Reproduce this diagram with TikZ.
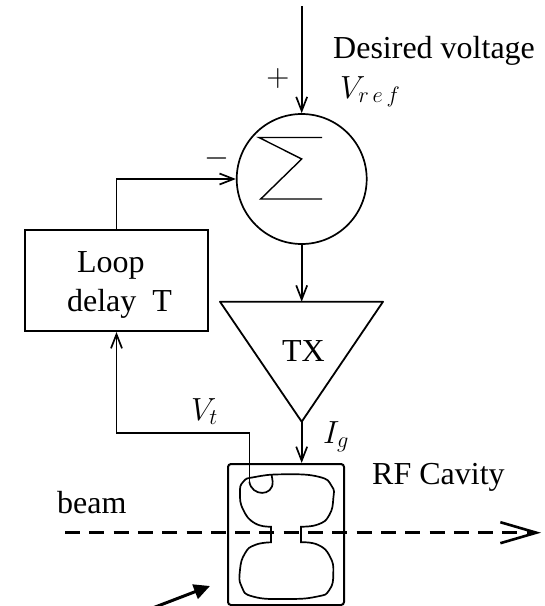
\documentclass[tikz,border=0pt]{standalone}
\usepackage{fix-cm}
\usepackage{fontspec}
\setmainfont{Liberation Serif}
\usetikzlibrary{arrows.meta}
\tikzset{
	line/.style={line width=1.6pt, -{Straight Barb[length=14pt,width=11pt,line width=1.7pt]}},
	blockbox/.style={draw, line width=2pt, inner sep=0pt},
	caption/.style={anchor=base west, inner sep=0pt},
	sign/.style={inner sep=0pt},
}
\begin{document}
	\begin{tikzpicture}[x=1pt,y=-1pt,font=\fontsize{32}{39}\selectfont]
		\useasboundingbox (0,0) rectangle (545,606);
		%% Blocks
		\node[draw, circle, line width=1.7pt, minimum size=130pt, inner sep=0pt] (sum) at (301.7,179) {};
		\node[blockbox, minimum width=183pt, minimum height=101pt, align=left] (delay) at (116.5,280.5) {\hspace*{16pt}\rule{0pt}{29pt}Loop\\\hspace*{6pt}delay~~T};
		\node[blockbox, rounded corners=3pt, minimum width=116pt, minimum height=141pt] (cavity) at (286,534.5) {};
		\coordinate (txin) at (301.7,301.7);
		\coordinate (txout) at (301.7,421.7);
		\draw[line width=1.8pt, line join=round] (220,301.7) -- (383,301.7) -- (txout) -- cycle;
		\node[inner sep=0pt] (txlabel) at (303.5,351) {TX};
		%% Sigma
		\draw[line width=1.4pt] (322,137.5) -- (259,137.5) -- (301.7,159) -- (260.7,199) -- (322,199);
		%% Cavity
		\begin{scope}[shift={(190,380)},x=0.3333pt,y=-0.3333pt]
			\draw[line width=1.7pt] plot[smooth, tension=0.85] coordinates {(243,440) (195,430) (160,390) (150,340) (160,305) (195,291) (280,283) (385,290) (425,318) (430,355) (418,405) (385,433) (333,440)} -- (333,487) -- plot[smooth, tension=0.85] coordinates {(333,487) (385,495) (420,530) (430,580) (418,630) (380,650) (290,657) (190,650) (155,620) (150,570) (165,520) (195,495) (243,487)} -- cycle;
			\draw[line width=1.7pt] (178,305) .. controls (185,350) and (250,350) .. (248,305) -- (245,285);
			\coordinate (probe) at (178,305);
		\end{scope}
		%% Signals
		\coordinate (vin) at (301.7,6);
		\coordinate (tap) at (116.5,432.7);
		\draw[line] (vin) -- (sum.north);
		\draw[line] (sum.south) -- (txin);
		\draw[line] (txout) -- (cavity.north -| txout);
		\draw[line] (delay.north) |- (sum.west);
		\draw[line] (probe) |- (tap) -- (delay.south);
		%% Beam
		\coordinate (beamin) at (65,532.7);
		\coordinate (beamout) at (541,532.7);
		\draw[line width=3.5pt, dash pattern=on 15pt off 9.3pt, -{Straight Barb[length=36pt,width=21pt,line width=2.6pt]}] (beamin) -- (beamout);
		\coordinate (tailin) at (150,609);
		\coordinate (tailout) at (210,586);
		\draw[line width=3pt, -{Triangle[length=16pt,width=15pt]}] (tailin) -- (tailout);
		%% Labels
		\node[caption] (desired) at (333,58) {Desired voltage};
		\node[caption] (vref) at (340,98) {$V_{r\,e\,f}$};
		\node[caption] (vt) at (191,420) {$V_t$};
		\node[caption] (ig) at (323,443) {$I_g$};
		\node[caption] (rf) at (372,484) {RF Cavity};
		\node[caption] (beam) at (57,513) {beam};
		\node[sign] (plus) at (278,78) {$+$};
		\node[sign] (minus) at (217,158) {$-$};
	\end{tikzpicture}
\end{document}
